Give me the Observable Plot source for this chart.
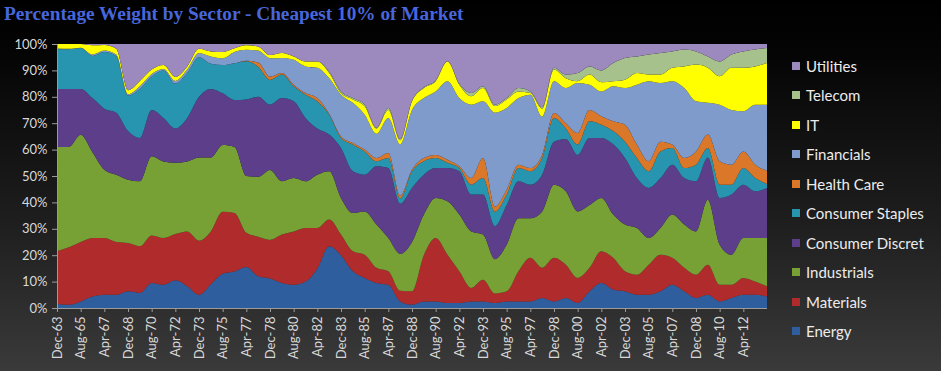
<!DOCTYPE html>
<html>
<head>
<meta charset="utf-8">
<script src="https://cdn.jsdelivr.net/npm/d3@7"></script>
<script src="https://cdn.jsdelivr.net/npm/@observablehq/plot@0.6"></script>
<style>
  html, body { margin: 0; padding: 0; }
  body { width: 941px; height: 371px; overflow: hidden;
         background: linear-gradient(to bottom, #000 0%, #050505 15%, #1e1e1e 60%, #3a3a3a 100%); }
  #wrap { position: relative; width: 941px; height: 371px; }
  #title { position: absolute; left: 4px; top: 3px; font-family: "Liberation Serif", serif; font-weight: bold;
           font-size: 19.3px; color: #4866dc; white-space: nowrap; }
  #chart { position: absolute; left: 0; top: 0; }
  #legend { position: absolute; left: 792px; top: 51px; font-family: Lato, sans-serif; font-size: 15px; color: #ececec; }
  .item { height: 29.5px; display: flex; align-items: center; white-space: nowrap; }
  .sw { width: 8px; height: 8px; margin-right: 6px; display: inline-block; }
</style>
</head>
<body>
<div id="wrap">
  <div id="title">Percentage Weight by Sector - Cheapest 10% of Market</div>
  <div id="chart"></div>
  <div id="legend"></div>
</div>
<script>
const sectors = ["Energy","Materials","Industrials","Consumer Discret","Consumer Staples","Health Care","Financials","IT","Telecom","Utilities"];
const colors  = ["#2f5e9f","#b02c2c","#77a035","#5c3e8a","#2895b0","#db7728","#7e9bcb","#ffff00","#a6c18b","#9c89bd"];

const months = ["1963-12","1964-10","1965-08","1966-06","1967-04","1968-02","1968-12","1969-10","1970-08","1971-06",
"1972-04","1973-02","1973-12","1974-10","1975-08","1976-06","1977-04","1978-02","1978-12","1979-10",
"1980-08","1981-06","1982-04","1983-02","1983-12","1984-10","1985-08","1986-06","1987-04","1988-02",
"1988-12","1989-10","1990-08","1991-06","1992-04","1993-02","1993-12","1994-10","1995-08","1996-06",
"1997-04","1998-02","1998-12","1999-10","2000-08","2001-06","2002-04","2003-02","2003-12","2004-10",
"2005-08","2006-06","2007-04","2008-02","2008-12","2009-10","2010-08","2011-06","2012-04","2013-02","2013-12"];

const tickMonths = ["1963-12","1965-08","1967-04","1968-12","1970-08","1972-04","1973-12","1975-08","1977-04","1978-12",
"1980-08","1982-04","1983-12","1985-08","1987-04","1988-12","1990-08","1992-04","1993-12","1995-08",
"1997-04","1998-12","2000-08","2002-04","2003-12","2005-08","2007-04","2008-12","2010-08","2012-04"];

const energy = [1.5,1.2,2.5,4.4,5,5,6.3,5.7,9.5,8.8,10.5,8.2,5,9,13,13.8,15.5,12,11.2,9.5,8.8,10,15,23.4,20,13.9,11.4,9.5,8.8,2.5,1.3,2.5,2.5,1.9,1.9,2.5,2.5,1.9,2.5,2.5,2.5,3.8,2.5,3.8,1.9,6.3,9.5,7,6.3,5,5,6.3,8.8,6.3,3.8,5,2.5,3.8,5,5,4.4];
const materials = [20,21.8,22.5,22.1,21.5,20,18.3,17.7,18,17.7,17.5,20.8,20.5,20,23.5,22.2,13,15,14.6,18.3,20.2,20.3,15.3,10.1,7.8,7.6,8.8,5.7,5.1,4,5,17.5,24,18.3,12,5.1,8.2,3.6,3.8,11.4,16.5,11.4,16.5,12.6,9.5,8.9,12,12,7.6,7.6,11.4,13.9,10.2,8.9,8.8,11.4,6.3,5,6.4,5,3.8];
const industrials = [39.5,38,40.6,32.5,25.9,25.5,24,24.6,30,29,27,26.5,31.5,28,25.2,25,21.5,22.7,26.5,20.2,20.2,17.7,20.2,18.3,13.9,14.5,16.4,16.4,12.6,14,18.7,15.4,15.2,20.2,21.5,21.4,17.1,13,17.7,20.1,15,21.4,27.7,27.8,25.2,23.8,20.2,16.4,17.7,17.7,10.1,10.1,16.4,16.4,16.4,24.6,15.2,11.4,15.1,16.5,18.3];
const consDiscret = [22,22,17.4,20.5,23.1,23.5,18.4,16.4,17.5,16.5,13,16.5,23,26,19.6,17.8,29,30.3,24.7,31.5,29.1,24,17.5,13.9,18.9,15.8,13.9,22.1,26.5,19,20.5,15.1,11.3,12.6,16.4,14,15.2,12.5,15,14,12.7,13.9,16.3,19.8,21.4,25.4,22.7,26.6,25.2,18.9,19,18.9,18.9,17.6,19,16,17.7,22.8,20.2,17.7,19];
const consStaples = [15,15,15.5,16,21.5,21.5,13.5,18.6,12.7,18,17,17,15,9.5,10.7,13.9,14.5,11.4,9.4,8.9,5.7,8.8,10.3,7.5,3.8,10.1,8.8,1.9,3.8,2,6.3,5.1,3.8,2,1.2,3.7,6.2,5.5,4,5,5.1,6.3,9,4,3.9,6.3,5,5,6.2,7.6,6.3,10.1,6.3,3.8,6.3,3.6,5,3.7,6.3,5,1.5];
const healthCare = [0,0,0,0,0,0,0,0,0,0,0,0,0,0,0,0,0.2,1.6,1.2,0.6,0.6,0.6,1.2,0.3,0.6,0.6,0.7,1.2,1.9,1,0.6,1.2,1.2,1.2,0.7,2.5,7.6,1.9,1.8,1.3,1.2,1.2,1.9,2,4.4,4.3,3.2,3.7,6.4,5.1,3.8,3.7,1.3,3.8,5,5.1,8.9,7.6,6.3,5.1,5];
const financials = [0.3,0.2,0.1,0.5,0.5,0.5,0.5,1,0.9,0.5,1,1.3,1.6,2.8,2.6,4.3,4.1,4.5,7,5.7,9.4,10.1,11.5,13.5,15.8,15.2,13.2,9.2,13.3,19.5,22.6,22.7,24,29.7,25.8,27.8,21.5,35.6,31,25.2,27.8,14.5,12,13.3,18.9,9.6,9.4,13.3,13.9,22.7,30.3,22.2,24,26.5,19,12,21.4,20.7,15.2,22.7,25];
const it = [1.7,1.8,1.4,3.5,2.1,2.2,1.5,2,1.7,1.5,1.5,1.2,1.6,1.9,2.4,1.4,1.7,1.5,1.2,1.9,1.3,1.9,2.4,2,0.6,1.3,3.2,2,3,1.5,3.3,3.8,3.9,7.5,5.1,3.2,5,2.5,3.2,2.5,0.6,3,4.4,3.7,0.7,3.8,3.5,1.9,3.2,4.4,2.5,3.2,5.1,8.2,13.9,13.3,10.8,16,16.5,14.5,15.8];
const telecom = [0,0,0,0,0,0,0,0,0,0,0,0,0,0,0,0,0.1,0,0,0,0,0,0,0.5,0.6,0.5,0.6,0.3,0.8,0.5,0.2,0.3,0.3,0.2,0.4,1.2,0.7,0.5,0.5,1.3,0.6,0.5,0.7,1.4,3.1,3.1,4.5,6.9,8.2,6.3,7.6,8.2,6.2,6.4,5,4.3,5.6,5,6.2,6.4,5.7];
const utilities = [0,0,0,0.5,0.4,1.8,17.5,14,9.7,8,12.5,8.5,1.8,2.8,3,1.6,0.4,1,4.2,3.4,4.7,6.6,6.6,10.5,18,20.5,23,31.7,24.2,36,21.5,16.4,13.8,6.4,15,18.6,16,23,20.5,16.7,18,24,9,11.6,11,8.5,10,7.2,5.3,4.7,4,3.4,2.8,2.1,2.8,4.7,6.6,4,2.8,2.1,1.5];

const series = [energy, materials, industrials, consDiscret, consStaples, healthCare, financials, it, telecom, utilities];
const parse = d3.utcParse("%Y-%m");
const data = [];
months.forEach((m, i) => {
  sectors.forEach((s, j) => data.push({date: parse(m), sector: s, value: series[j][i]}));
});

const chart = Plot.plot({
  width: 941,
  height: 371,
  marginLeft: 57,
  marginRight: 174,
  marginTop: 44,
  marginBottom: 63,
  style: {background: "transparent", color: "#d8d8d8", fontFamily: "Lato, sans-serif", fontSize: "13px"},
  x: {type: "utc", domain: [parse(months[0]), parse(months[months.length - 1])]},
  y: {domain: [0, 1]},
  color: {domain: sectors, range: colors},
  marks: [
    Plot.areaY(data, Plot.stackY({
      x: "date", y: "value", z: "sector", fill: "sector",
      order: sectors, offset: "normalize", curve: "monotone-x"
    })),
    Plot.ruleY([0], {stroke: "#9a9a9a"}),
    Plot.ruleX([parse(months[0])], {stroke: "#9a9a9a"}),
    Plot.axisY({ticks: d3.range(0, 1.01, 0.1), tickFormat: d3.format(".0%"), tickSize: 5, tickPadding: 5, label: null, stroke: "#9a9a9a"}),
    Plot.axisX({ticks: tickMonths.map(parse), tickFormat: d3.utcFormat("%b-%y"), tickRotate: -90, tickSize: 4, tickPadding: 4, label: null, stroke: "#9a9a9a"})
  ]
});
document.getElementById("chart").appendChild(chart);

const legend = document.getElementById("legend");
sectors.slice().reverse().forEach(s => {
  const row = document.createElement("div");
  row.className = "item";
  const sw = document.createElement("span");
  sw.className = "sw";
  sw.style.background = colors[sectors.indexOf(s)];
  row.appendChild(sw);
  row.appendChild(document.createTextNode(s));
  legend.appendChild(row);
});
</script>
</body>
</html>
